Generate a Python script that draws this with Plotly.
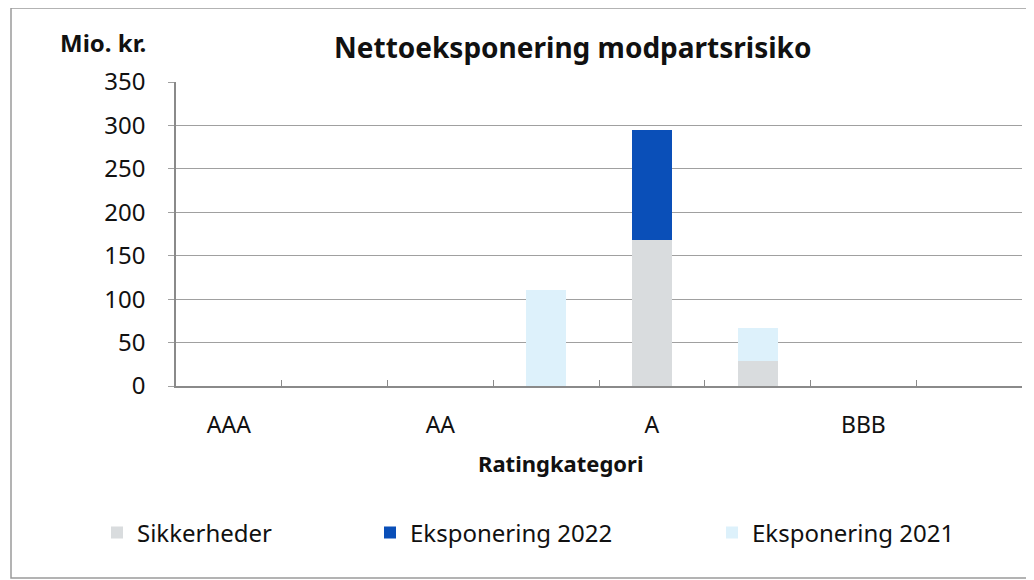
import plotly.graph_objects as go

categories = ["AAA", "AA+", "AA", "AA-", "A", "A-", "BBB", "BBB-"]
tick_labels = ["AAA", "", "AA", "", "A", "", "BBB", ""]
sikkerheder = [0, 0, 0, 0, 168, 29, 0, 0]
eksponering_2022 = [0, 0, 0, 0, 127, 0, 0, 0]
eksponering_2021 = [0, 0, 0, 110, 0, 38, 0, 0]

FONT = "Noto Sans"
OFF = 8  # page body margin
W, H = 1034 - OFF, 580 - OFF
L, R, T, B = 176 - OFF, 12, 82 - OFF, 194
PW, PH = W - L - R, H - T - B


def px(x):
    return (x - OFF - L) / PW


def py(y):
    return (H - B - (y - OFF)) / PH


fig = go.Figure()
fig.add_trace(go.Bar(x=categories, y=sikkerheder, name="Sikkerheder",
                     marker=dict(color="#d9dcde", line=dict(width=0)), legend="legend"))
fig.add_trace(go.Bar(x=categories, y=eksponering_2022, name="Eksponering 2022",
                     marker=dict(color="#0a4fb8", line=dict(width=0)), legend="legend2"))
fig.add_trace(go.Bar(x=categories, y=eksponering_2021, name="Eksponering 2021",
                     marker=dict(color="#ddf1fb", line=dict(width=0)), legend="legend3"))

legend_common = dict(orientation="h", yanchor="middle", xanchor="left",
                     font=dict(family=FONT, size=24, color="#111"),
                     bgcolor="rgba(0,0,0,0)", itemwidth=30)
fig.update_layout(
    width=W, height=H,
    margin=dict(l=L, r=R, t=T, b=B, pad=0),
    paper_bgcolor="white", plot_bgcolor="white",
    barmode="stack", bargap=0.62,
    font=dict(family=FONT, size=19, color="#111"),
    showlegend=True,
    legend=dict(x=px(97), y=py(533), **legend_common),
    legend2=dict(x=px(370), y=py(533), **legend_common),
    legend3=dict(x=px(712), y=py(533), **legend_common),
    xaxis=dict(
        type="category", categoryorder="array", categoryarray=categories,
        tickmode="array", tickvals=categories, ticktext=tick_labels,
        tickson="boundaries", ticks="inside", ticklen=6, tickcolor="#8a8a8a",
        showline=True, linecolor="#8a8a8a", linewidth=1.5,
        showgrid=False, ticklabelstandoff=18,
        tickfont=dict(family=FONT, size=23, color="#111"),
    ),
    yaxis=dict(
        range=[0, 350], dtick=50, tick0=0,
        showgrid=True, gridcolor="#a0a0a0", gridwidth=1.2,
        showline=True, linecolor="#8a8a8a", linewidth=1.5,
        ticks="outside", ticklen=6, tickcolor="#a0a0a0",
        ticklabelstandoff=18, zeroline=False,
        tickfont=dict(family=FONT, size=24, color="#111"),
    ),
)

fig.add_annotation(text="<b>Nettoeksponering modpartsrisiko</b>", xref="paper", yref="paper",
                   x=px(572), y=py(47), showarrow=False, xanchor="center", yanchor="middle",
                   font=dict(family=FONT, size=28, color="#111"))
fig.add_annotation(text="<b>Mio. kr.</b>", xref="paper", yref="paper",
                   x=px(103), y=py(42), showarrow=False, xanchor="center", yanchor="middle",
                   font=dict(family=FONT, size=24, color="#111"))
fig.add_annotation(text="<b>Ratingkategori</b>", xref="paper", yref="paper",
                   x=px(561), y=py(463), showarrow=False, xanchor="center", yanchor="middle",
                   font=dict(family=FONT, size=22, color="#111"))

fig.add_shape(type="rect", xref="paper", yref="paper",
              x0=px(11), x1=px(1045), y0=py(578), y1=py(8),
              line=dict(color="#9a9a9a", width=1.5), fillcolor="rgba(0,0,0,0)", layer="below")

fig.write_html("out.html")
